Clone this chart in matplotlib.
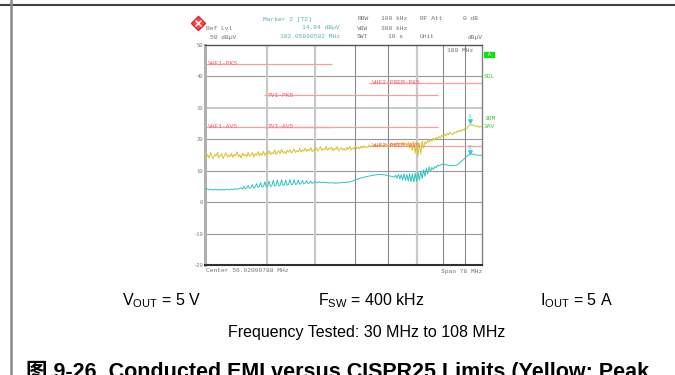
import numpy as np
import matplotlib.pyplot as plt
from matplotlib.lines import Line2D
from matplotlib.patches import Rectangle

plt.rcParams['mathtext.fontset'] = 'custom'
plt.rcParams['mathtext.rm'] = 'Liberation Sans'

W, H = 675, 375

# sweep 30 MHz .. 108 MHz, log axis
f_start = 30.0
f_stop = 108.0

# peak detector trace (yellow), dBuV
peak_dbuv = [
    15.6, 14.2, 15.1, 14.0, 15.8, 14.5, 13.9, 15.2, 14.6, 15.9, 14.1, 14.8, 15.4, 13.8, 14.9, 15.7, 14.3, 15.0, 14.4, 15.5,
    14.2, 15.3, 14.7, 16.0, 14.5, 15.1, 14.0, 15.6, 14.8, 15.2, 14.4, 15.9, 14.6, 15.0, 15.8, 14.3, 15.4, 14.9, 16.1, 14.7,
    15.5, 15.0, 16.2, 14.9, 15.6, 15.3, 16.4, 15.1, 15.8, 15.4, 16.6, 15.2, 15.9, 16.3, 15.5, 16.8, 15.7, 16.1, 15.4, 16.5,
    15.9, 16.7, 15.6, 16.2, 16.9, 15.8, 16.4, 16.0, 17.1, 15.9, 16.6, 16.2, 17.2, 16.1, 16.8, 16.3, 17.4, 16.0, 16.7, 16.4,
    17.3, 16.2, 16.9, 17.6, 16.4, 17.0, 16.6, 17.8, 16.5, 17.2, 16.8, 17.5, 16.3, 17.1, 16.7, 17.6, 16.4, 16.9, 17.3, 16.6,
    17.0, 16.5, 17.4, 16.8, 17.7, 16.6, 17.2, 16.9, 17.9, 17.0, 17.5, 16.9, 17.8, 17.2, 18.0, 17.3, 17.7, 17.4, 18.2, 17.5,
    17.9, 17.6, 18.3, 17.7, 18.1, 17.8, 18.5, 17.9, 18.2, 18.0, 18.6, 17.9, 18.4, 18.1, 18.8, 18.0, 18.5, 18.3, 18.9, 18.2,
    18.7, 18.4, 19.0, 18.3, 18.8, 17.9, 19.1, 17.2, 18.9, 16.4, 19.3, 15.6, 19.0, 14.6, 18.8, 15.3, 19.4, 17.1, 19.2, 18.6,
    19.6, 19.1, 19.9, 19.4, 20.3, 19.7, 20.6, 20.1, 20.9, 20.4, 21.3, 20.8, 21.6, 21.1, 21.9, 21.4, 22.2, 21.7, 21.5, 22.3,
    22.0, 22.6, 22.3, 22.9, 22.5, 23.2, 22.9, 23.6, 23.4, 24.1, 24.5, 24.8, 24.4, 24.6, 24.2, 24.0, 24.3, 23.8, 24.1, 23.9,
]

# average detector trace (cyan), dBuV
avg_dbuv = [
    4.3, 4.0, 4.2, 3.9, 4.1, 4.0, 3.8, 4.1, 3.9, 4.0, 3.9, 4.1, 3.8, 4.0, 3.9, 4.0, 4.1, 3.9, 4.0, 4.2, 4.0, 4.1, 4.3, 4.1, 4.2,
    4.3, 4.6, 4.2, 5.0, 4.3, 4.5, 5.3, 4.4, 4.6, 5.6, 4.5, 4.8, 5.9, 4.7, 4.9, 6.2, 4.8, 5.0, 6.5, 4.9, 5.1, 6.7, 5.0, 5.2, 6.9,
    5.1, 5.3, 7.0, 5.2, 5.4, 7.1, 5.3, 5.5, 7.0, 5.4, 5.6, 7.2, 5.5, 5.7, 7.1, 5.6, 5.8, 7.0, 5.7, 5.9, 6.9, 5.8, 6.0, 6.8, 5.9,
    6.1, 6.7, 6.0, 6.2, 6.6,
    6.1, 6.3, 6.5, 6.2, 6.3, 6.4, 6.2, 6.3, 6.2, 6.1, 6.2, 6.1, 6.2, 6.1, 6.0, 6.1, 6.2, 6.1, 6.2, 6.3, 6.2, 6.3, 6.4, 6.3, 6.5,
    6.6, 6.7, 6.9, 7.1, 7.3,
    7.4, 7.5, 7.7, 7.8, 7.9, 8.0, 8.1, 8.2, 8.3, 8.4, 8.5, 8.6, 8.6, 8.7, 8.7, 8.8, 8.8, 8.8, 8.7, 8.7, 8.6, 8.5, 8.4, 8.3, 8.2,
    8.1,
    7.9, 8.6, 7.6, 8.9, 7.4, 8.7, 7.1, 9.0, 6.9, 8.8, 6.7, 9.1, 6.5, 9.0, 6.4, 9.2, 6.6, 9.5, 7.0, 9.8, 7.5, 10.3, 8.2,
    10.8, 9.0, 11.2, 9.8, 11.0, 10.4, 11.3, 11.0, 11.7, 11.5, 11.8, 12.0,
    12.1, 12.0, 11.9, 11.8, 11.7, 11.6, 11.6, 11.6, 11.7, 11.7, 11.8, 12.1, 12.5, 12.9, 13.3, 13.7, 14.1, 14.5, 14.9, 15.2,
    15.4, 15.3, 15.2, 15.1, 15.0, 15.0, 14.9, 14.9, 14.8,
]

# CISPR25 class 5 limit lines
limit_names = ['VHF1-PK5', 'VHF1-AV5', 'TVI-PK5', 'TVI-AV5', 'VHF2-PREM-PK5', 'VHF2-PREM-AV5']
limit_f0 = [30, 30, 39.5, 39.5, 64, 64]
limit_f1 = [54, 54, 88, 88, 108, 108]
limit_level = [44, 24, 34, 24, 38, 18]

# markers
marker_ids = ['1', '2']
marker_freq = [102.06, 102.06]
marker_level = [24.8, 14.94]

yticks = [50, 40, 30, 20, 10, 0, -10, -20]
xgrid = [40, 50, 60, 70, 80, 90, 100]
xgrid_light = [40, 50, 80]


def fx(x):
    return x / W


def fy(y):
    return 1 - y / H


freq = np.geomspace(f_start, f_stop, len(peak_dbuv))
freq_avg = np.geomspace(f_start, f_stop, len(avg_dbuv))

fig = plt.figure(figsize=(6.75, 3.75), dpi=100)
ax = fig.add_axes([fx(205), fy(265), (482 - 205) / W, (265 - 45) / H])
ax.set_xscale('log')
ax.set_xlim(f_start, f_stop)
ax.set_ylim(-20, 50)
ax.xaxis.set_major_locator(plt.NullLocator())
ax.xaxis.set_minor_locator(plt.NullLocator())
ax.set_yticks(yticks)
ax.set_yticklabels([str(v) for v in yticks], fontsize=4, color='#808080', family='Liberation Mono')
ax.tick_params(axis='y', length=0, pad=1.5)

# grid
for v in yticks[1:-1]:
    c, lw = ('#c8c8c8', 1.4) if v == 30 else ('#9a9a9a', 0.8)
    ax.axhline(v, color=c, lw=lw, zorder=1)
for f in xgrid:
    if f in xgrid_light:
        ax.axvline(f, color='#c8c8c8', lw=1.6, zorder=1)
    else:
        ax.axvline(f, color='#8a8a8a', lw=0.8, zorder=1)

ax.spines['left'].set_color('#b0b0b0')
ax.spines['left'].set_linewidth(2.2)
ax.spines['bottom'].set_color('#303030')
ax.spines['bottom'].set_linewidth(1.5)
ax.spines['top'].set_color('#505050')
ax.spines['top'].set_linewidth(1.0)
ax.spines['right'].set_color('#808080')
ax.spines['right'].set_linewidth(1.0)

# limit lines
for name, f0, f1, lv in zip(limit_names, limit_f0, limit_f1, limit_level):
    ax.hlines(lv, f0, f1, color='#ff9c9c', lw=0.9, zorder=2)
    ax.text(f0 * 1.015, lv, name, fontsize=4.5, color='#ff5a5a', family='Liberation Mono',
            va='center', ha='left', zorder=5)

# traces
ax.plot(freq, peak_dbuv, color='#d8c22a', lw=0.7, zorder=3)
ax.plot(freq_avg, avg_dbuv, color='#2ec4c4', lw=0.7, zorder=3)

# markers
for mid, mf, ml in zip(marker_ids, marker_freq, marker_level):
    ax.plot(mf, ml + 1.0, marker='v', color='#30d0e0', ms=2.5, zorder=6)
    ax.text(mf, ml + 1.7, mid, fontsize=4.5, color='#30d0e0', family='Liberation Mono',
            ha='center', va='bottom', zorder=6)

ax.text(0.97, 0.985, '100 MHz', transform=ax.transAxes, fontsize=4.5, color='#707070',
        family='Liberation Mono', ha='right', va='top')

# instrument header
mono = dict(fontsize=4.5, family='Liberation Mono', va='center')
teal = '#58b0b0'
gray = '#707070'
fig.text(fx(263), fy(19), 'Marker 2 [T2]', color=teal, **mono)
fig.text(fx(340), fy(28), '14.94 dBµV', color=teal, ha='right', **mono)
fig.text(fx(340), fy(37), '102.05890502 MHz', color=teal, ha='right', **mono)
fig.text(fx(206), fy(28), 'Ref Lvl', color=gray, **mono)
fig.text(fx(210), fy(37), '50 dBµV', color=gray, **mono)
fig.text(fx(357), fy(19), 'RBW', color=gray, **mono)
fig.text(fx(381), fy(19), '100 kHz', color=gray, **mono)
fig.text(fx(357), fy(28), 'VBW', color=gray, **mono)
fig.text(fx(381), fy(28), '300 kHz', color=gray, **mono)
fig.text(fx(357), fy(37), 'SWT', color=gray, **mono)
fig.text(fx(388), fy(37), '10 s', color=gray, **mono)
fig.text(fx(420), fy(19), 'RF Att', color=gray, **mono)
fig.text(fx(478), fy(19), '0 dB', color=gray, ha='right', **mono)
fig.text(fx(420), fy(37), 'Unit', color=gray, **mono)
fig.text(fx(483), fy(37), 'dBµV', color=gray, ha='right', **mono)

# logo
fig.add_artist(Line2D([fx(198)], [fy(23)], marker='D', ms=7, color='#ff4848',
                      markeredgecolor='#e02020', transform=fig.transFigure))
fig.add_artist(Line2D([fx(198)], [fy(23)], marker='x', ms=4, color='white', mew=1.0,
                      transform=fig.transFigure))

# right side status labels
green = '#30cc30'
fig.add_artist(Rectangle((fx(484), fy(57)), 10 / W, 5 / H, color='#10e010', transform=fig.transFigure))
fig.text(fx(489), fy(54.5), 'A', fontsize=3.5, color='white', ha='center', va='center', family='Liberation Mono')
fig.text(fx(484), fy(76), 'SGL', color=green, **mono)
fig.text(fx(484), fy(119), '1RM', color=green, **mono)
fig.text(fx(484), fy(126), '3AV', color=green, **mono)

fig.text(fx(206), fy(271), 'Center 56.92099788 MHz', color=gray, **mono)
fig.text(fx(482), fy(271), 'Span 78 MHz', color=gray, ha='right', **mono)

# page rules
fig.add_artist(Line2D([0, 1], [fy(5), fy(5)], color='#404040', lw=1.5, transform=fig.transFigure))
fig.add_artist(Line2D([fx(11), fx(11)], [0, 1], color='#888888', lw=1.8, transform=fig.transFigure))

# caption
sans = dict(fontsize=11.5, family='Liberation Sans', va='baseline', color='black')
fig.text(fx(122), fy(305), r'V$_{\mathrm{OUT}}$ = 5 V', **sans)
fig.text(fx(318), fy(305), r'F$_{\mathrm{SW}}$ = 400 kHz', **sans)
fig.text(fx(540), fy(305), r'I$_{\mathrm{OUT}}$ = 5 A', **sans)
fig.text(fx(367), fy(337), 'Frequency Tested: 30 MHz to 108 MHz', ha='center', **sans)
fig.text(fx(26), fy(378), '图 9-26. Conducted EMI versus CISPR25 Limits (Yellow: Peak',
         fontsize=15.5, fontweight='bold', family=['Liberation Sans', 'Noto Sans CJK SC'],
         va='baseline', color='black')

fig.savefig('out.png', dpi=100)
